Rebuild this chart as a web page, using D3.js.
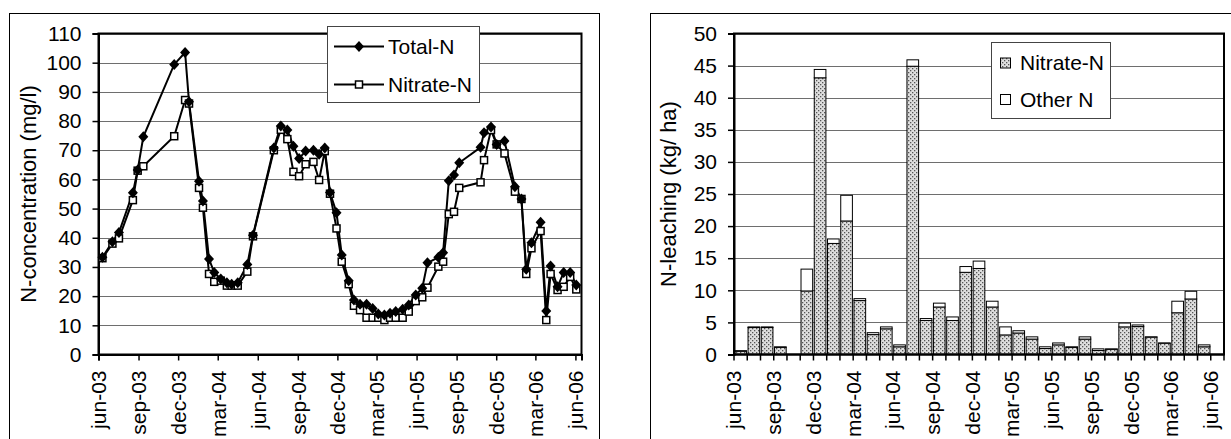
<!DOCTYPE html>
<html><head><meta charset="utf-8">
<script src="https://cdn.jsdelivr.net/npm/d3@7"></script>
<style>
html,body{margin:0;padding:0;background:#fff;}
svg{display:block;font-family:"Liberation Sans",Arial,sans-serif;}
</style></head>
<body>
<svg id="c" width="1231" height="439"></svg>
<script>
// ---------- Left chart data (sampling dates & concentrations, mg/l) ----------
const sampleDates = ["2003-06-10","2003-07-03","2003-07-18","2003-08-19","2003-08-30","2003-09-12","2003-11-22","2003-12-17","2003-12-26",
"2004-01-18","2004-01-27","2004-02-10","2004-02-22","2004-03-08","2004-03-22","2004-04-02","2004-04-16","2004-05-08","2004-05-21",
"2004-07-08","2004-07-24","2004-08-08","2004-08-22","2004-09-04","2004-09-19","2004-10-07","2004-10-20","2004-11-02","2004-11-14",
"2004-11-29","2004-12-11","2004-12-27","2005-01-08","2005-01-22","2005-02-06","2005-02-20","2005-03-05","2005-03-19","2005-04-01",
"2005-04-14","2005-04-30","2005-05-14","2005-05-30","2005-06-14","2005-06-26","2005-07-21","2005-08-01","2005-08-14","2005-08-26",
"2005-09-07","2005-10-26","2005-11-03","2005-11-19","2005-12-02","2005-12-20","2006-01-13","2006-01-28","2006-02-08","2006-02-20",
"2006-03-13","2006-03-26","2006-04-05","2006-04-21","2006-05-05","2006-05-20","2006-06-03"];
const totalN = [33.3,38.6,41.8,55.4,63.2,74.6,99.4,103.5,86.6,
59.4,52.6,32.7,28.1,25.9,24.6,24.1,24.6,30.8,40.9,
70.8,78.3,76.9,71.4,67.2,69.7,70.0,68.6,70.8,55.5,
48.6,34.1,25.3,18.7,17.2,17.2,15.8,13.9,13.5,14.1,
14.7,15.5,17.0,20.4,22.7,31.4,33.3,34.9,59.5,61.5,
65.7,71.0,76.0,78.0,72.0,73.2,57.5,53.3,29.2,38.3,
45.3,14.9,30.3,23.2,28.1,28.1,23.8];
const nitrateN = [33.0,38.0,39.8,52.9,63.0,64.5,74.8,87.2,86.0,
57.1,50.3,27.6,24.9,25.3,23.6,23.6,23.6,28.4,40.5,
70.0,77.0,73.8,62.6,61.1,65.2,66.0,59.8,69.7,55.1,
43.2,31.8,24.1,16.7,15.2,12.6,12.6,12.6,11.8,12.6,
12.6,12.6,14.7,18.3,19.6,22.9,30.1,31.8,48.1,48.9,
57.1,59.0,66.6,76.9,72.0,68.9,55.8,53.3,27.6,36.4,
42.3,11.8,27.6,22.1,23.2,26.6,22.3];
const leftXTicks = ["jun-03","sep-03","dec-03","mar-04","jun-04","sep-04","dec-04","mar-05","jun-05","sep-05","dec-05","mar-06","jun-06"];
const leftYTicks = [0,10,20,30,40,50,60,70,80,90,100,110];

// ---------- Right chart data (monthly leaching, kg/ha) ----------
const months = ["jun-03","jul-03","aug-03","sep-03","oct-03","nov-03","dec-03","jan-04","feb-04","mar-04","apr-04","may-04",
"jun-04","jul-04","aug-04","sep-04","oct-04","nov-04","dec-04","jan-05","feb-05","mar-05","apr-05","may-05",
"jun-05","jul-05","aug-05","sep-05","oct-05","nov-05","dec-05","jan-06","feb-06","mar-06","apr-06","may-06","jun-06"];
const leachNitrate = [0.5,4.2,4.2,1.1,0,9.9,43.1,17.3,20.8,8.4,3.1,4.0,
1.2,44.9,5.3,7.4,5.3,12.8,13.4,7.4,3.05,3.35,2.4,0.93,
1.5,1.1,2.4,0.62,0.8,4.3,4.35,2.7,1.75,6.5,8.65,1.2,0];
const leachOther = [0.1,0.1,0.1,0.1,0,3.4,1.3,0.7,4.0,0.3,0.3,0.3,
0.3,1.0,0.3,0.6,0.55,0.9,1.15,0.9,1.25,0.35,0.35,0.27,
0.3,0.1,0.35,0.26,0.08,0.6,0.25,0.05,0.05,1.8,1.2,0.3,0];
const rightXTicks = ["jun-03","sep-03","dec-03","mar-04","jun-04","sep-04","dec-04","mar-05","jun-05","sep-05","dec-05","mar-06","jun-06"];
const rightYTicks = [0,5,10,15,20,25,30,35,40,45,50];

const svg = d3.select("#c");
const parse = d3.timeParse("%Y-%m-%d");
const parseTick = d3.timeParse("%b-%y");
const FS_TICK = 21, FS_TITLE = 22, FS_LEG = 21;
const GRID = "#6e6e6e";

// defs: dotted pattern
const defs = svg.append("defs");
const pat = defs.append("pattern").attr("id","dots").attr("width",4).attr("height",4).attr("patternUnits","userSpaceOnUse");
pat.append("rect").attr("width",4).attr("height",4).attr("fill","#dedede");
pat.append("rect").attr("x",0).attr("y",0).attr("width",1.3).attr("height",1.3).attr("fill","#555");
pat.append("rect").attr("x",2).attr("y",2).attr("width",1.3).attr("height",1.3).attr("fill","#555");

// ================= LEFT CHART =================
svg.append("rect").attr("x",9.5).attr("y",13.5).attr("width",590).attr("height",460)
  .attr("fill","#fff").attr("stroke","#000").attr("stroke-width",1);

const L = {x0:98.5, x1:581.5, y0:354.5, y1:33.5};
const xL = d3.scaleTime().domain([parse("2003-06-01"), parse("2006-06-15")]).range([L.x0, L.x1]);
const yL = d3.scaleLinear().domain([0,110]).range([L.y0, L.y1]);

const gL = svg.append("g");
gL.append("g").selectAll("line").data(leftYTicks.filter(d=>d>0)).join("line")
  .attr("x1",L.x0).attr("x2",L.x1).attr("y1",d=>Math.round(yL(d))+0.5).attr("y2",d=>Math.round(yL(d))+0.5)
  .attr("stroke",GRID).attr("stroke-width",1);
gL.append("rect").attr("x",L.x0).attr("y",L.y1).attr("width",L.x1-L.x0).attr("height",L.y0-L.y1)
  .attr("fill","none").attr("stroke","#000").attr("stroke-width",2);

const yAxL = d3.axisLeft(yL).tickValues(leftYTicks).tickSize(6).tickPadding(11);
const gyL = gL.append("g").attr("transform",`translate(${L.x0},0)`).call(yAxL);
gyL.select(".domain").attr("stroke","#000").attr("stroke-width",2);
gyL.selectAll(".tick line").attr("stroke","#000").attr("stroke-width",1.5);
gyL.selectAll("text").attr("font-size",FS_TICK).attr("font-family","Liberation Sans, Arial").attr("fill","#000");

const xAxL = d3.axisBottom(xL).tickValues(leftXTicks.map(parseTick)).tickSize(6)
  .tickFormat((d,i)=>leftXTicks[i]);
const gxL = gL.append("g").attr("transform",`translate(0,${L.y0})`).call(xAxL);
gxL.select(".domain").attr("stroke","#000").attr("stroke-width",2);
gxL.selectAll(".tick line").attr("stroke","#000").attr("stroke-width",1.5);
gxL.selectAll("text").attr("font-size",FS_TICK).attr("font-family","Liberation Sans, Arial").attr("fill","#000")
  .attr("text-anchor","end").attr("dy","0.35em").attr("transform","translate(0,16) rotate(-90)").attr("x",0).attr("y",0);

svg.append("text").attr("transform",`translate(36,${(L.y0+L.y1)/2}) rotate(-90)`)
  .attr("text-anchor","middle").attr("font-size",FS_TITLE).text("N-concentration (mg/l)");

const pts = sampleDates.map((d,i)=>({d:parse(d), t:totalN[i], n:nitrateN[i]}));
const lineT = d3.line().x(p=>xL(p.d)).y(p=>yL(p.t));
const lineN = d3.line().x(p=>xL(p.d)).y(p=>yL(p.n));
gL.append("path").attr("d",lineN(pts)).attr("fill","none").attr("stroke","#000").attr("stroke-width",2);
gL.append("path").attr("d",lineT(pts)).attr("fill","none").attr("stroke","#000").attr("stroke-width",2);
const diamond = "M0,-5.5L5,0L0,5.5L-5,0Z";
gL.append("g").selectAll("rect").data(pts).join("rect")
  .attr("x",p=>xL(p.d)-3.5).attr("y",p=>yL(p.n)-3.5).attr("width",7).attr("height",7)
  .attr("fill","#fff").attr("stroke","#000").attr("stroke-width",1.5);
gL.append("g").selectAll("path").data(pts).join("path")
  .attr("d",diamond).attr("transform",p=>`translate(${xL(p.d)},${yL(p.t)})`).attr("fill","#000");

const lg = svg.append("g");
lg.append("rect").attr("x",327.5).attr("y",26.5).attr("width",152).attr("height",76)
  .attr("fill","#fff").attr("stroke","#444").attr("stroke-width",1);
const legL = [{name:"Total-N", y:46.5, m:"d"},{name:"Nitrate-N", y:84.5, m:"s"}];
legL.forEach(e=>{
  lg.append("line").attr("x1",334).attr("x2",384).attr("y1",e.y).attr("y2",e.y).attr("stroke","#000").attr("stroke-width",2);
  if(e.m==="d") lg.append("path").attr("d",diamond).attr("transform",`translate(359,${e.y})`).attr("fill","#000");
  else lg.append("rect").attr("x",355.5).attr("y",e.y-3.5).attr("width",7).attr("height",7).attr("fill","#fff").attr("stroke","#000").attr("stroke-width",1.5);
  lg.append("text").attr("x",388).attr("y",e.y).attr("dy","0.35em").attr("font-size",FS_LEG).text(e.name);
});

// ================= RIGHT CHART =================
svg.append("rect").attr("x",650.5).attr("y",13.5).attr("width",600).attr("height",460)
  .attr("fill","#fff").attr("stroke","#000").attr("stroke-width",1);
const R = {x0:734, x1:1224, y0:354.5, y1:33.5};
const xR = d3.scaleBand().domain(months).range([R.x0,R.x1]).paddingInner(0.12).paddingOuter(0.06);
const yR = d3.scaleLinear().domain([0,50]).range([R.y0,R.y1]);
const gR = svg.append("g");
gR.append("g").selectAll("line").data(rightYTicks.filter(d=>d>0)).join("line")
  .attr("x1",R.x0).attr("x2",R.x1).attr("y1",d=>Math.round(yR(d))+0.5).attr("y2",d=>Math.round(yR(d))+0.5)
  .attr("stroke",GRID).attr("stroke-width",1);

const stackData = months.map((m,i)=>({m, nitrate:leachNitrate[i], other:leachOther[i]}));
const stacked = d3.stack().keys(["nitrate","other"])(stackData);
const fills = {nitrate:"url(#dots)", other:"#fff"};
stacked.forEach(s=>{
  gR.append("g").selectAll("rect").data(s.filter(d=>d[1]-d[0]>0)).join("rect")
    .attr("x",d=>xR(d.data.m)).attr("width",xR.bandwidth())
    .attr("y",d=>yR(d[1])).attr("height",d=>yR(d[0])-yR(d[1]))
    .attr("fill",fills[s.key]).attr("stroke","#000").attr("stroke-width",1);
});

gR.append("rect").attr("x",R.x0).attr("y",R.y1).attr("width",R.x1-R.x0).attr("height",R.y0-R.y1)
  .attr("fill","none").attr("stroke","#000").attr("stroke-width",2);

const yAxR = d3.axisLeft(yR).tickValues(rightYTicks).tickSize(6).tickPadding(11);
const gyR = gR.append("g").attr("transform",`translate(${R.x0},0)`).call(yAxR);
gyR.select(".domain").attr("stroke","#000").attr("stroke-width",2);
gyR.selectAll(".tick line").attr("stroke","#000").attr("stroke-width",1.5);
gyR.selectAll("text").attr("font-size",FS_TICK).attr("font-family","Liberation Sans, Arial").attr("fill","#000");

const step = xR.step();
const boundary = m => xR(m) - step*xR.paddingInner()/2;
const gxR = gR.append("g");
gxR.append("line").attr("x1",R.x0).attr("x2",R.x1).attr("y1",R.y0).attr("y2",R.y0).attr("stroke","#000").attr("stroke-width",2);
gxR.selectAll("line.tk").data(months.concat(["end"])).join("line").attr("class","tk")
  .attr("x1",(m,i)=>i<months.length?boundary(m):R.x1).attr("x2",(m,i)=>i<months.length?boundary(m):R.x1)
  .attr("y1",R.y0).attr("y2",R.y0+6).attr("stroke","#000").attr("stroke-width",1.5);
gxR.selectAll("text").data(rightXTicks).join("text")
  .attr("transform",m=>`translate(${boundary(m)},${R.y0+16}) rotate(-90)`)
  .attr("text-anchor","end").attr("dy","0.35em").attr("font-size",FS_TICK).text(m=>m);

svg.append("text").attr("transform",`translate(676,${(R.y0+R.y1)/2}) rotate(-90)`)
  .attr("text-anchor","middle").attr("font-size",FS_TITLE).text("N-leaching (kg/ ha)");

const lr = svg.append("g");
lr.append("rect").attr("x",991.5).attr("y",42.5).attr("width",119).attr("height",76)
  .attr("fill","#fff").attr("stroke","#444").attr("stroke-width",1);
const legR = [{name:"Nitrate-N", y:63, f:"url(#dots)"},{name:"Other N", y:99.5, f:"#fff"}];
legR.forEach(e=>{
  lr.append("rect").attr("x",1000.5).attr("y",e.y-5).attr("width",10).attr("height",10).attr("fill",e.f).attr("stroke","#000").attr("stroke-width",1);
  lr.append("text").attr("x",1020).attr("y",e.y).attr("dy","0.35em").attr("font-size",FS_LEG).text(e.name);
});
</script>
</body></html>
